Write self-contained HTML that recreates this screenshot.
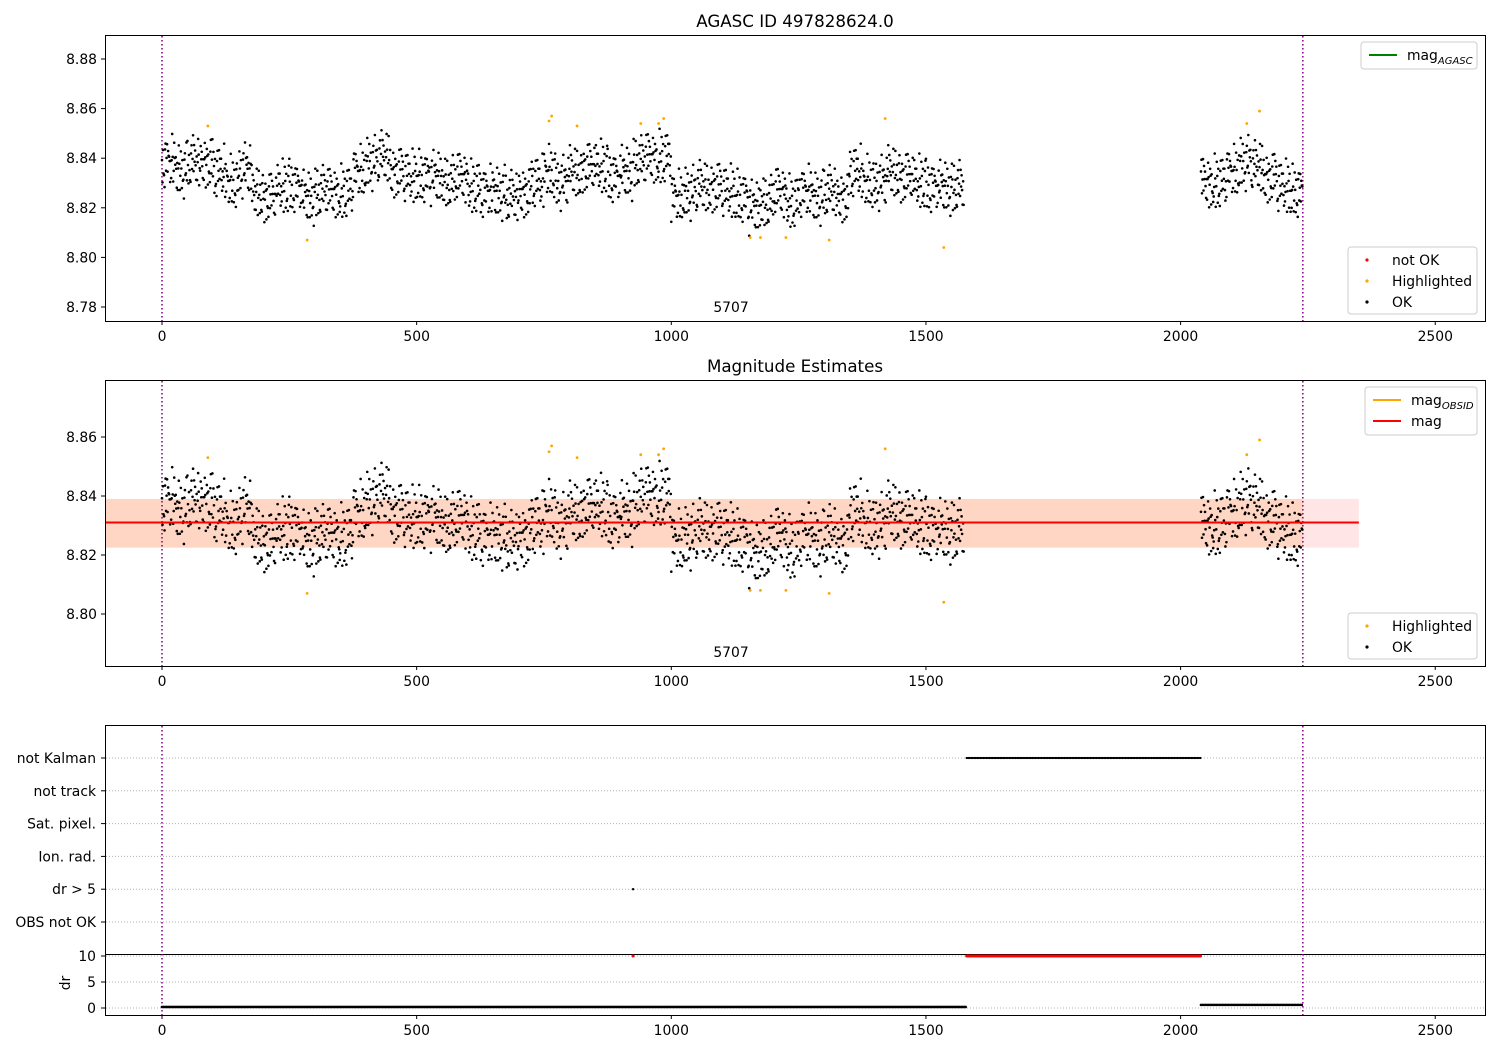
<!DOCTYPE html>
<html><head><meta charset="utf-8">
<style>
body{margin:0;background:#fff;font-family:"DejaVu Sans","Liberation Sans",sans-serif;}
svg text{font-family:"DejaVu Sans","Liberation Sans",sans-serif;font-size:13.9px;fill:#000;}
</style></head>
<body>
<svg id="c" width="1500" height="1050" xmlns="http://www.w3.org/2000/svg">
<rect width="1500" height="1050" fill="#fff"/>
</svg>
<script>
// ---- data ----
const binStarts = [0,25,50,75,100,125,150,175,200,225,250,275,300,325,350,375,400,425,450,475,500,525,550,575,600,625,650,675,700,725,750,775,800,825,850,875,900,925,950,975,1000,1025,1050,1075,1100,1125,1150,1175,1200,1225,1250,1275,1300,1325,1350,1375,1400,1425,1450,1475,1500,1525,1550,2040,2065,2090,2115,2140,2165,2190,2215];
const binMags = [8.838,8.835,8.838,8.838,8.834,8.830,8.835,8.826,8.824,8.828,8.828,8.824,8.826,8.826,8.826,8.834,8.838,8.840,8.834,8.832,8.832,8.832,8.830,8.832,8.828,8.826,8.826,8.824,8.826,8.830,8.834,8.830,8.834,8.836,8.836,8.832,8.834,8.838,8.840,8.840,8.824,8.826,8.828,8.828,8.826,8.824,8.820,8.822,8.826,8.822,8.826,8.824,8.826,8.824,8.834,8.830,8.830,8.834,8.832,8.830,8.828,8.828,8.828,8.830,8.830,8.834,8.838,8.836,8.832,8.828,8.826];
const hlX = [90,285,760,765,815,940,975,985,1155,1175,1225,1310,1420,1535,2130,2155];
const hlMag = [8.853,8.807,8.855,8.857,8.853,8.854,8.854,8.856,8.808,8.808,8.808,8.807,8.856,8.804,8.854,8.859];
const magMean = 8.831, bandLo = 8.8225, bandHi = 8.839;
const obsStart = 0, obsStop = 2240;
const kalmanStart = 1580, kalmanStop = 2040;
const drOutlierX = [925];
const xTicks = [0,500,1000,1500,2000,2500];
const y1Ticks = [8.78,8.80,8.82,8.84,8.86,8.88];
const y2Ticks = [8.80,8.82,8.84,8.86];
const flagLabels = ["not Kalman","not track","Sat. pixel.","Ion. rad.","dr > 5","OBS not OK"];
const drTicks = [0,5,10];
const jitter = [0.1,-0.6,0.8,-0.2,0.4,-0.9,0.3,0.6,-0.4,0,0.9,-0.7,0.2,-0.3,0.7,-0.1,0.5,-0.8,0.15,-0.5,0.95,-0.25,0.45,-0.65,0.05];

// ---- scales ----
const X = v => 162 + v*0.5093;
const Y1 = m => 59 + (8.88-m)*2480;
const Y2 = m => 437 + (8.86-m)*2950;
const YF = i => 758 + i*32.8;
const YD = d => 1008 - d*5.2;
const svg = document.getElementById('c');
const NS = 'http://www.w3.org/2000/svg';
function el(tag, at, parent){const e=document.createElementNS(NS,tag);for(const k in at)e.setAttribute(k,at[k]);(parent||svg).appendChild(e);return e;}
function txt(s,x,y,anchor,parent,size){const t=el('text',{x:x,y:y,'text-anchor':anchor||'middle'},parent);if(size)t.style.fontSize=size+'px';t.textContent=s;return t;}

function axes(name,x0,y0,x1,y1){
  const g=el('g',{});
  
  
  el('rect',{x:x0+.5,y:y0+.5,width:x1-x0,height:y1-y0,fill:'none',stroke:'#000','stroke-width':1},g);
  const xt=el('g',{},g);
  
  
  xTicks.forEach(v=>{el('line',{x1:X(v),x2:X(v),y1:y1,y2:y1+4,stroke:'#000'},xt);txt(String(v),X(v),y1+20,'middle',xt);});
  return g;
}
function vlines(y0,y1){
  [obsStart,obsStop].forEach(v=>{const l=el('line',{x1:X(v),x2:X(v),y1:y0,y2:y1,stroke:'#800080','stroke-width':1.5,'stroke-dasharray':'1.5,2.5'});
  
  });
}
function scatter(Y,name){
  const g=el('g',{});
  
  
  binStarts.forEach((b,i)=>{
    for(let j=0;j<25;j++){
      const m=binMags[i]+jitter[(j*11+i*7)%25]*0.0105+jitter[(j*3+i)%25]*0.002;
      el('circle',{cx:X(b+j),cy:Y(m),r:1.3,fill:'#000'},g);
    }
  });
  hlX.forEach((v,i)=>{el('circle',{cx:X(v),cy:Y(hlMag[i]),r:1.4,fill:'orange'},g);});
}
function legend(name,x,y,w,h,items){
  const g=el('g',{});
  
  
  el('rect',{x:x,y:y,width:w,height:h,rx:3,fill:'#fff','fill-opacity':0.85,stroke:'#ccc'},g);
  items.forEach((it,i)=>{
    const cy=y+13+i*21;
    if(it.line) el('line',{x1:x+8,x2:x+36,y1:cy,y2:cy,stroke:it.c,'stroke-width':2},g);
    else el('circle',{cx:x+19,cy:cy,r:1.6,fill:it.c},g);
    const t=txt(it.t,x+(it.line?46:44),cy+5,'start',g);
    if(it.sub){const s=document.createElementNS(NS,'tspan');s.setAttribute('dy','4');s.style.fontSize='10px';s.style.fontStyle='italic';s.textContent=it.sub;t.appendChild(s);}
  });
}

// ---- panel 1 ----
axes('agasc-axes',105,35,1485,321);
txt('AGASC ID 497828624.0',795,27,'middle',null,16.7);
const yt1=el('g',{});
y1Ticks.forEach(v=>{el('line',{x1:101,x2:105,y1:Y1(v),y2:Y1(v),stroke:'#000'},yt1);txt(v.toFixed(2),97,Y1(v)+5,'end',yt1);});
vlines(36,321);
scatter(Y1,'mag-scatter-panel1');
txt('5707',731,312);
legend('legend-agasc',1361,42,116,27,[{line:1,c:'green',t:'mag',sub:'AGASC'}]);
legend('legend-status-1',1348,247,129,67,[{c:'red',t:'not OK'},{c:'orange',t:'Highlighted'},{c:'#000',t:'OK'}]);

// ---- panel 2 ----
const band=el('g',{});
el('rect',{x:106,y:Y2(bandHi),width:X(2350)-106,height:Y2(bandLo)-Y2(bandHi),fill:'red','fill-opacity':0.1},band);
el('rect',{x:106,y:Y2(bandHi),width:X(obsStop)-106,height:Y2(bandLo)-Y2(bandHi),fill:'#ffa050','fill-opacity':0.22},band);
axes('estimates-axes',105,380,1485,666);
txt('Magnitude Estimates',795,372,'middle',null,16.7);
const yt2=el('g',{});
y2Ticks.forEach(v=>{el('line',{x1:101,x2:105,y1:Y2(v),y2:Y2(v),stroke:'#000'},yt2);txt(v.toFixed(2),97,Y2(v)+5,'end',yt2);});
vlines(381,666);
scatter(Y2,'mag-scatter-panel2');
const ml=el('line',{x1:106,x2:X(2350),y1:Y2(magMean),y2:Y2(magMean),stroke:'red','stroke-width':2});

txt('5707',731,657);
legend('legend-mag',1365,387,112,48,[{line:1,c:'orange',t:'mag',sub:'OBSID'},{line:1,c:'red',t:'mag'}]);
legend('legend-status-2',1348,613,129,46,[{c:'orange',t:'Highlighted'},{c:'#000',t:'OK'}]);

// ---- panel 3 ----
axes('flags-axes',105,725,1485,1015);
el('line',{x1:105,x2:1485,y1:954.5,y2:954.5,stroke:'#000'});
const fl=el('g',{});
flagLabels.forEach((s,i)=>{el('line',{x1:106,x2:1485,y1:YF(i),y2:YF(i),stroke:'#b0b0b0','stroke-dasharray':'1,2'},fl);el('line',{x1:101,x2:105,y1:YF(i),y2:YF(i),stroke:'#000'},fl);txt(s,96,YF(i)+5,'end',fl);});
const dl=el('g',{});
drTicks.forEach(v=>{el('line',{x1:106,x2:1485,y1:YD(v),y2:YD(v),stroke:'#b0b0b0','stroke-dasharray':'1,2'},dl);el('line',{x1:101,x2:105,y1:YD(v),y2:YD(v),stroke:'#000'},dl);txt(String(v),96,YD(v)+5,'end',dl);});
const dt=txt('dr',70,983,'middle',dl);dt.setAttribute('transform','rotate(-90 70 983)');
vlines(726,1015);
const fp=el('g',{});
for(let v=kalmanStart;v<=kalmanStop;v+=3){el('circle',{cx:X(v),cy:YF(0),r:1.1,fill:'#000'},fp);el('circle',{cx:X(v),cy:YD(10),r:1.5,fill:'red'},fp);}
drOutlierX.forEach(v=>{el('circle',{cx:X(v),cy:YF(4),r:1.2,fill:'#000'},fp);el('circle',{cx:X(v),cy:YD(10),r:1.5,fill:'red'},fp);});
for(let v=0;v<kalmanStart;v+=3){el('circle',{cx:X(v),cy:YD(0.2),r:1.3,fill:'#000'},fp);}
for(let v=kalmanStop;v<=obsStop;v+=3){el('circle',{cx:X(v),cy:YD(0.6),r:1.3,fill:'#000'},fp);}
</script>
</body></html>
